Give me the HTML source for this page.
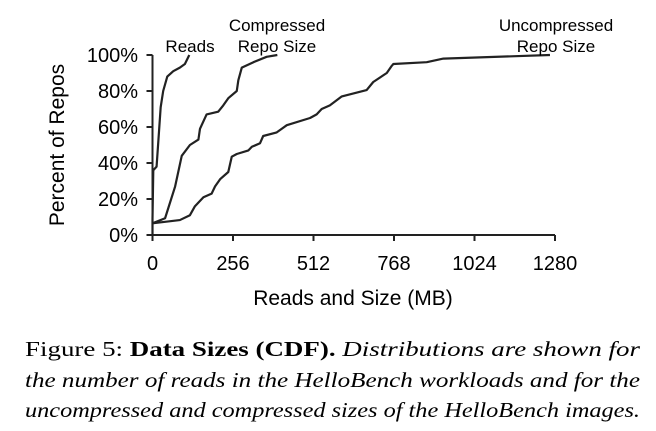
<!DOCTYPE html>
<html><head><meta charset="utf-8"><style>body{margin:0;background:#fff}svg{display:block;font-family:"Liberation Sans",Arial,sans-serif}.cap text{font-family:"Liberation Serif","Times New Roman",Times,serif;font-size:21px}</style></head>
<body>
<svg id="chart" width="656" height="431" xmlns="http://www.w3.org/2000/svg">
<g id="axes"></g>
<g id="series"></g>
<text x="190" y="52" font-size="17" text-anchor="middle">Reads</text>
<text x="277" y="31" font-size="17" text-anchor="middle">Compressed</text>
<text x="277" y="52" font-size="17" text-anchor="middle">Repo Size</text>
<text x="556" y="31" font-size="17" text-anchor="middle">Uncompressed</text>
<text x="556" y="52" font-size="17" text-anchor="middle">Repo Size</text>
<text x="353" y="305" font-size="21" text-anchor="middle">Reads and Size (MB)</text>
<text transform="translate(64,145) rotate(-90)" font-size="21" text-anchor="middle">Percent of Repos</text>
<g class="cap">
<text x="25" y="356" textLength="615" lengthAdjust="spacingAndGlyphs">Figure 5:  <tspan font-weight="bold">Data Sizes (CDF).</tspan> <tspan font-style="italic">Distributions are shown for</tspan></text>
<text x="25" y="387" font-style="italic" textLength="615" lengthAdjust="spacingAndGlyphs">the number of reads in the HelloBench workloads and for the</text>
<text x="25" y="417" font-style="italic" textLength="615" lengthAdjust="spacingAndGlyphs">uncompressed and compressed sizes of the HelloBench images.</text>
</g>
</svg>
<script>
const xTicks=[0,256,512,768,1024,1280];
const yTicks=[0,20,40,60,80,100];
const readsMB=[0,0,2.5,13,26,34,47,66,87,103,117];
const readsPct=[0,9,36,38,71,80,88,91,93,95,100];
const compMB=[0,40,72,93,119,146,151,172,209,225,241,268,273,284,321,363,397];
const compPct=[6.5,9.3,27,44,50,53,59,67,68.5,72,76,80,86,93,96,99,100];
const uncMB=[0,87,119,135,162,188,199,215,241,252,268,305,316,342,352,395,427,501,522,538,564,602,681,702,745,761,766,872,925,1264];
const uncPct=[6.5,8.3,11,16,21,23,27,31,35,43.5,45,47,49,51,55,57,61,65,67,70,72,77,80.5,85,90,94,95,96,98,100];
const X=v=>152.5+v*(402.5/1280);
const Y=v=>235-v*1.8;
const NS="http://www.w3.org/2000/svg";
const axes=document.getElementById('axes');
function mk(t,a,p){const e=document.createElementNS(NS,t);for(const k in a)e.setAttribute(k,a[k]);p.appendChild(e);return e;}
let ax=mk('path',{d:`M${X(0)} ${Y(100)}V${Y(0)}H${X(1280)}`,fill:'none',stroke:'#222','stroke-width':2},axes);


xTicks.forEach(t=>{
 const l=mk('line',{x1:X(t),x2:X(t),y1:Y(0),y2:Y(0)+6,stroke:'#222','stroke-width':2},axes);
 
 
 const tx=mk('text',{x:X(t),y:270,'font-size':20,'text-anchor':'middle'},axes);tx.textContent=t;
 
 
});
yTicks.forEach(t=>{
 const l=mk('line',{x1:X(0)-6,x2:X(0),y1:Y(t),y2:Y(t),stroke:'#222','stroke-width':2},axes);
 
 
 const tx=mk('text',{x:138,y:Y(t)+7,'font-size':20,'text-anchor':'end'},axes);tx.textContent=t+'%';
 
 
});
const ser=document.getElementById('series');
[[readsMB,readsPct,'reads-line'],[compMB,compPct,'compressed-line'],[uncMB,uncPct,'uncompressed-line']].forEach(([xs,ys,n])=>{
 const p=mk('polyline',{points:xs.map((v,i)=>X(v)+','+Y(ys[i])).join(' '),fill:'none',stroke:'#222','stroke-width':2.2,'stroke-linejoin':'round'},ser);
 
 
});
</script>
</body></html>
